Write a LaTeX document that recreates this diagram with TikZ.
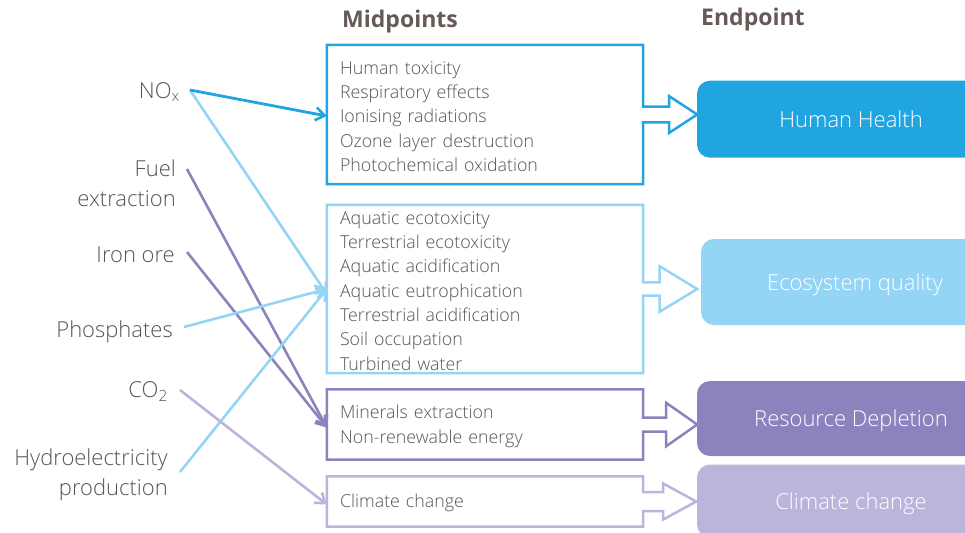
\documentclass[tikz,border=0pt]{standalone}
\usepackage{fontspec}
\setmainfont{Open Sans}[UprightFont=* Light, BoldFont=* Bold]
\usetikzlibrary{arrows.meta,calc}
\definecolor{txt}{HTML}{5B5150}
\definecolor{hdr}{HTML}{655A57}
\definecolor{cA}{HTML}{21A5E1}
\definecolor{cB}{HTML}{94D5F6}
\definecolor{cC}{HTML}{8C82BD}
\definecolor{cD}{HTML}{BBB4DB}
\newcommand\mytopstrut[1][17.8pt]{\rule{0pt}{#1}}
\newcommand\mybotstrut{\rule[-5pt]{0pt}{5pt}}
% #1 node, #2 colour, #3 stem half height, #4 stem length, #5 head half height, #6 total arrow length
\newcommand\blockarrowbox[6]{%
  \draw[#2, line width=2.5pt, line join=miter]
    (#1.north west) -- (#1.north east) -- ($(#1.east)+(0,-#3)$) -- ($(#1.east)+(#4,-#3)$)
    -- ($(#1.east)+(#4,-#5)$) -- ($(#1.east)+(#6,0)$) -- ($(#1.east)+(#4,#5)$)
    -- ($(#1.east)+(#4,#3)$) -- ($(#1.east)+(0,#3)$) -- (#1.south east) -- (#1.south west) -- cycle;}
\begin{document}
\begin{tikzpicture}[x=1pt,y=-1pt,
  lbl/.style={font=\fontsize{22}{29.5}\selectfont, text=txt, align=right, anchor=east, inner sep=0pt},
  head/.style={font=\fontsize{23}{27}\selectfont\bfseries, text=hdr, anchor=west, inner sep=0pt},
  midbox/.style={text width=290pt, inner xsep=13pt, inner ysep=0pt, minimum width=316pt, align=left,
                 font=\fontsize{17.8}{24.3}\selectfont, text=txt},
  endbox/.style={minimum width=308pt, rounded corners=13pt, draw=none, text=white,
                 font=\fontsize{22}{26}\selectfont, text height=16pt, text depth=0pt},
  conn/.style={line width=2.6pt, -{Straight Barb[length=9pt,width=13pt,line width=2.6pt]}}
]
\useasboundingbox (0,0) rectangle (965,532);
\clip (0,0) rectangle (965,532);

% headers
\node[head] (h1) at (342,22) {Midpoints};
\node[head] (h2) at (701,20) {Endpoint};

% midpoint boxes
\node[midbox, minimum height=139pt] (m1) at (485,114.5) {\mytopstrut[21.8pt]Human toxicity\\Respiratory effects\\Ionising radiations\\Ozone layer destruction\\Photochemical oxidation\mybotstrut};
\node[midbox, minimum height=168pt] (m2) at (485,289) {\mytopstrut[16.6pt]Aquatic ecotoxicity\\Terrestrial ecotoxicity\\Aquatic acidification\\Aquatic eutrophication\\Terrestrial acidification\\Soil occupation\\Turbined water};
\node[midbox, minimum height=70pt] (m3) at (485,424.5) {\mytopstrut Minerals extraction\\Non-renewable energy\mybotstrut};
\node[midbox, minimum height=50pt] (m4) at (485,501.5) {\mytopstrut Climate change\mybotstrut};

\blockarrowbox{m1}{cA}{7.8}{26}{18.3}{54}
\blockarrowbox{m2}{cB}{6.7}{16.5}{22.7}{54}
\blockarrowbox{m3}{cC}{7}{23}{21.7}{54}
\blockarrowbox{m4}{cD}{9.5}{20}{18}{53}

% endpoint boxes
\node[endbox, fill=cA, minimum height=77pt] (e1) at (851,119.2) {Human Health};
\node[endbox, fill=cB, minimum height=86pt] (e2) at (855,282) {Ecosystem quality};
\node[endbox, fill=cC, minimum height=75pt] (e3) at (851,418.5) {Resource Depletion};
\node[endbox, fill=cD, minimum height=73pt] (e4) at (851,501) {Climate change};

% left labels
\node[lbl] (nox) at (180,92) {NO\textsubscript{x}};
\node[lbl] (fuel) at (176,183) {Fuel\\extraction};
\node[lbl] (iron) at (175,255) {Iron ore};
\node[lbl] (phos) at (173,331.5) {Phosphates};
\node[lbl] (co2) at (168,392) {CO\textsubscript{2}};
\node[lbl] (hydro) at (168,475) {Hydroelectricity\\production};

\coordinate (s-nox) at (190,90);
\coordinate (s-fuel) at (187,169);
\coordinate (s-iron) at (187,252);
\coordinate (s-phos) at (184,327);
\coordinate (s-co2) at (180,390);
\coordinate (s-hydro) at (180,472);

% connectors
\draw[conn, cB] (s-nox) -- ([yshift=-5pt]m2.west);
\draw[conn, cC] (s-fuel) -- ([yshift=-3pt]m3.west);
\draw[conn, cC] (s-iron) -- ([yshift=-3pt]m3.west);
\draw[conn, cB] (s-phos) -- (m2.west);
\draw[conn, cB] (s-hydro) -- (m2.west);
\draw[conn, cD] (s-co2) -- ([yshift=-3pt]m4.west);
\draw[conn, cA, line width=2.8pt] (s-nox) -- ([yshift=-1.5pt]m1.west);
\end{tikzpicture}
\end{document}
